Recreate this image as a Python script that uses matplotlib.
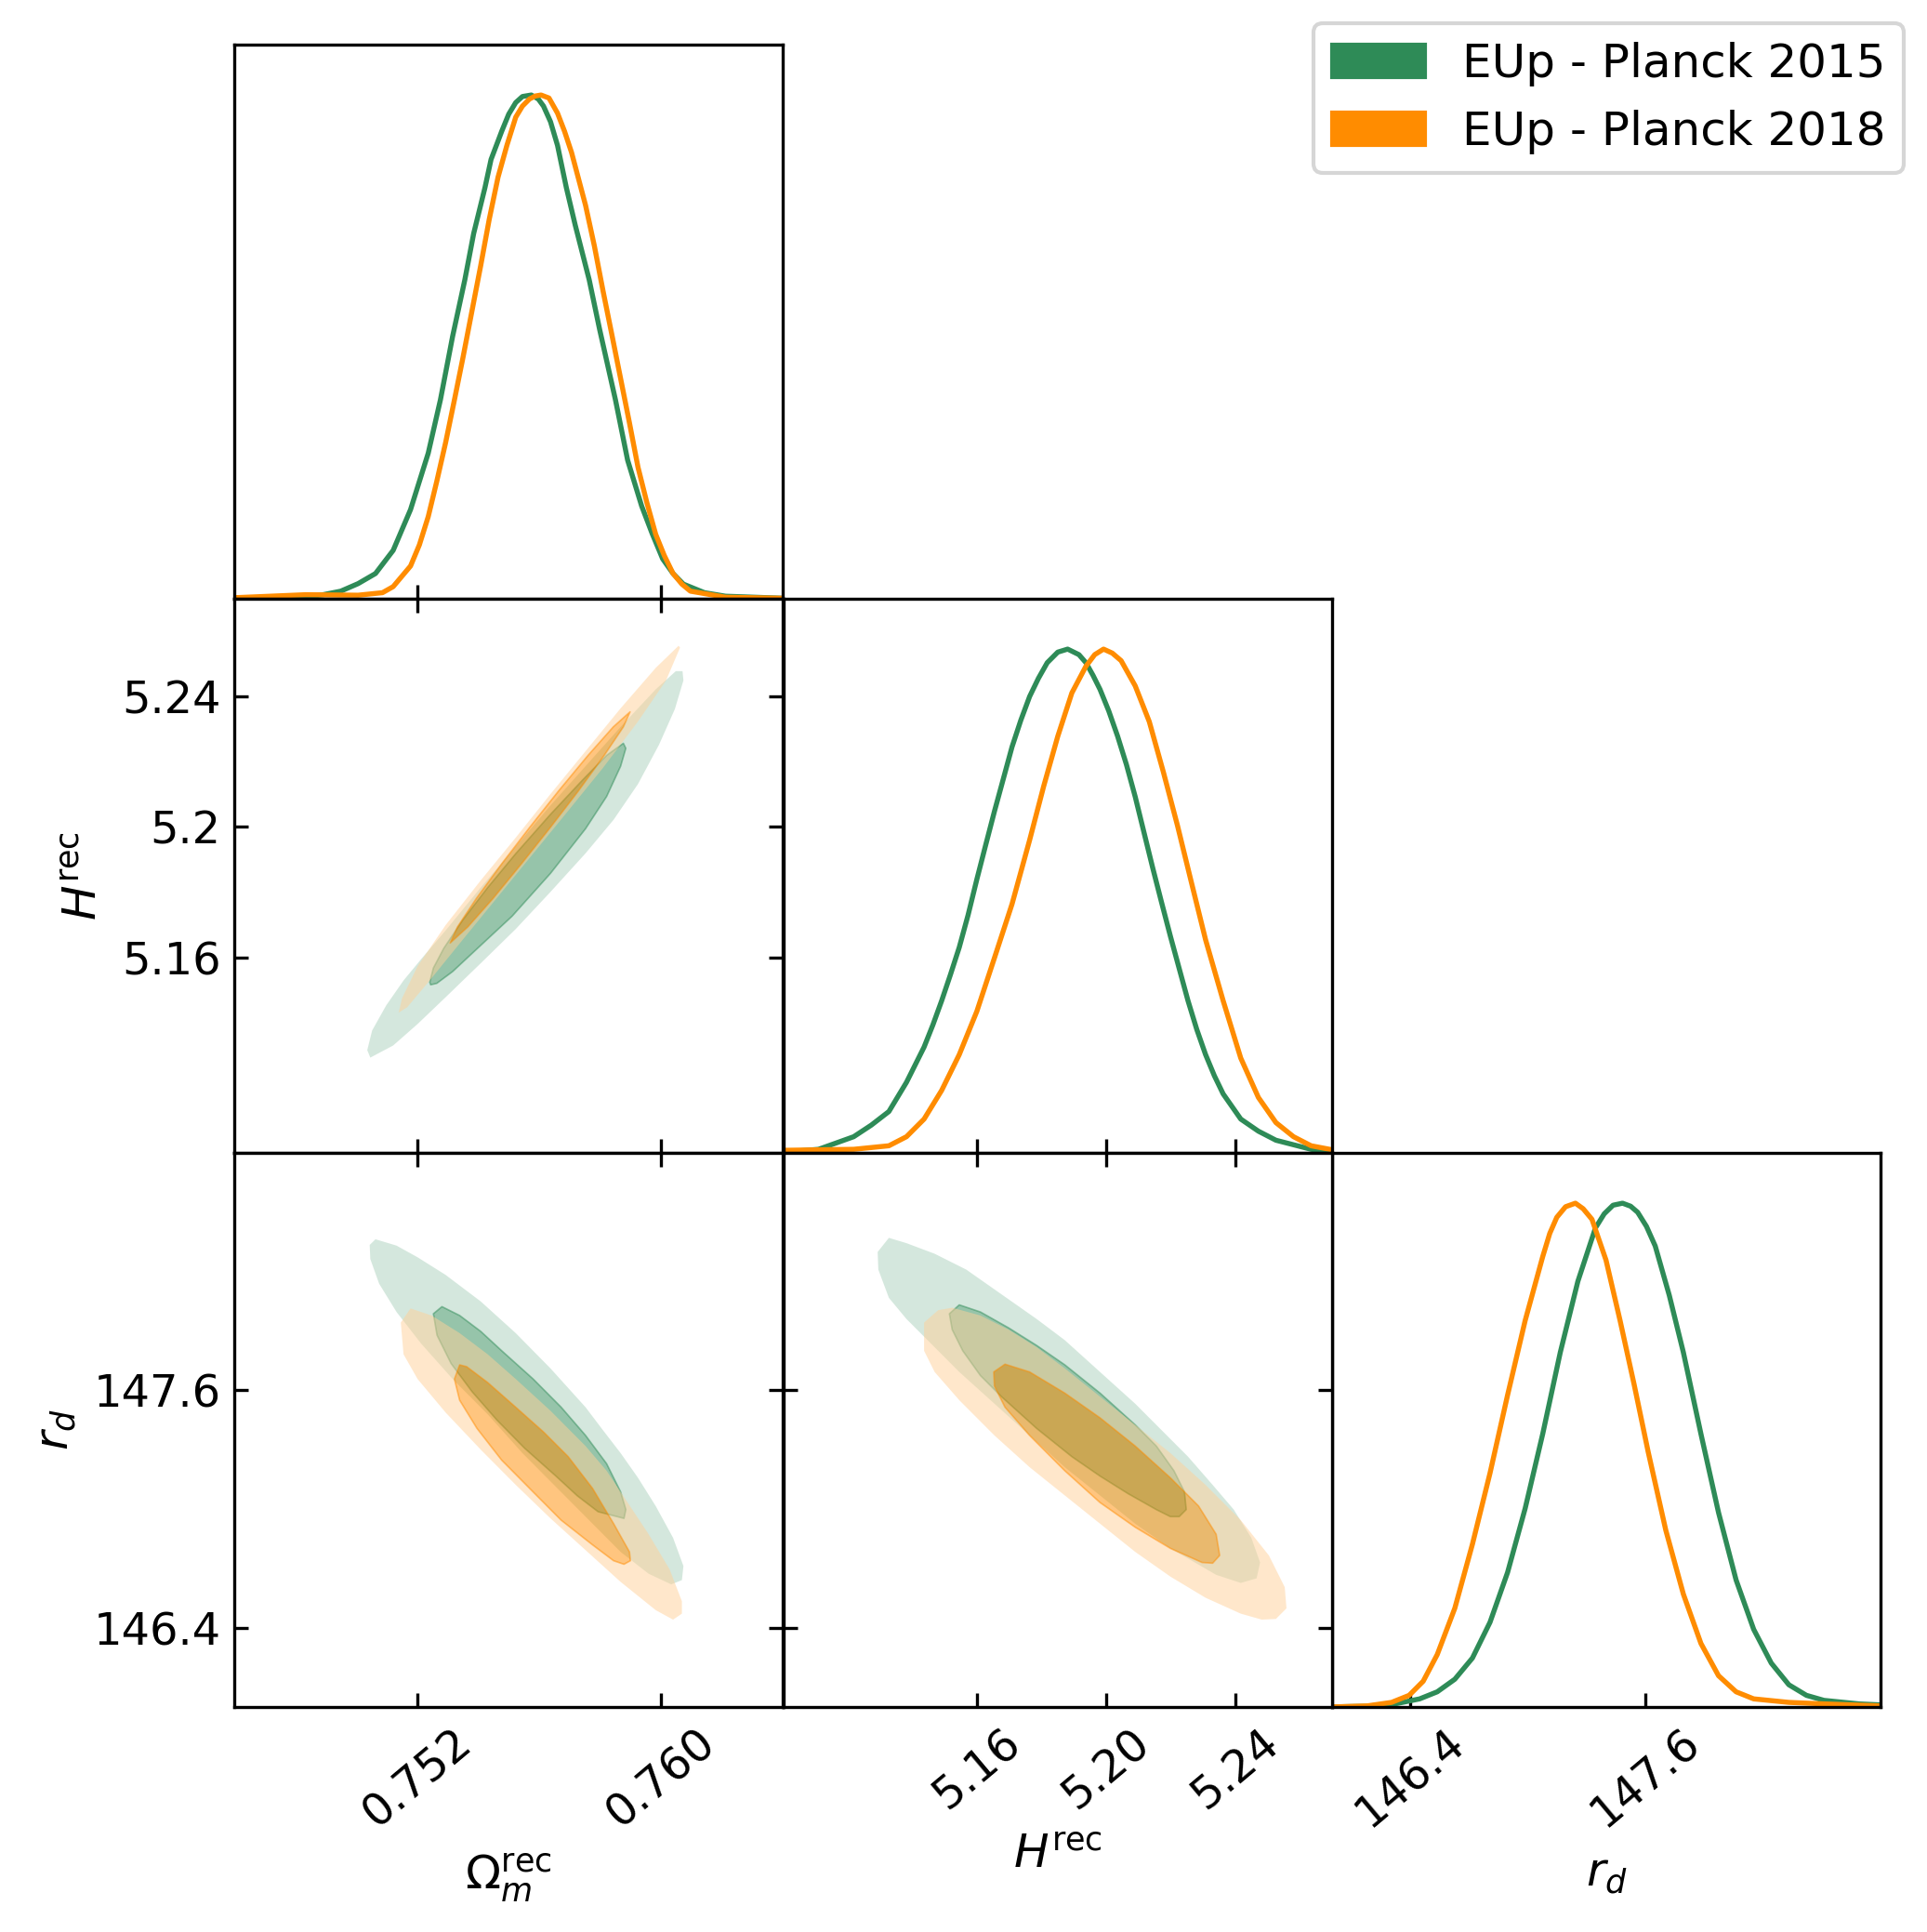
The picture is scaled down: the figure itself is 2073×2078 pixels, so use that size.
import numpy as np
import matplotlib.pyplot as plt
import matplotlib.colors as mcolors
from matplotlib.path import Path
from matplotlib.patches import PathPatch, Polygon, Patch

# ---- ranges, ticks, labels ----
om_lim = (0.746, 0.764)
h_lim = (5.100, 5.270)
rd_lim = (146.0, 148.8)

om_ticks = [0.752, 0.760]
om_ticklabels = ['0.752', '0.760']
h_ticks = [5.16, 5.20, 5.24]
h_xticklabels = ['5.16', '5.20', '5.24']
h_yticklabels = ['5.16', '5.2', '5.24']
rd_ticks = [146.4, 147.6]
rd_ticklabels = ['146.4', '147.6']

om_label = r'$\Omega_m^{\rm rec}$'
h_label = r'$H^{\rm rec}$'
rd_label = r'$r_d$'

series_names = ['EUp - Planck 2015', 'EUp - Planck 2018']
green = '#2E8B57'
orange = '#FF8C00'

# ---- 1D marginals (normalised to peak 1) ----
om_x_2015 = [0.7460, 0.74834, 0.74891, 0.74949, 0.75006, 0.75063, 0.75121, 0.75178,
             0.75236, 0.75276, 0.75316, 0.75356, 0.75385, 0.75422, 0.75442, 0.75477,
             0.75500, 0.75523, 0.75545, 0.75574, 0.75597, 0.75614, 0.75637, 0.75660,
             0.75689, 0.75718, 0.75764, 0.75798, 0.75850, 0.75890, 0.75936, 0.75970,
             0.76005, 0.76039, 0.76073, 0.76142, 0.76211, 0.7640]
om_p_2015 = [0.0015, 0.004, 0.008, 0.015, 0.030, 0.050, 0.096, 0.177,
             0.289, 0.395, 0.521, 0.633, 0.725, 0.816, 0.872, 0.928,
             0.962, 0.985, 0.997, 1.0, 0.992, 0.978, 0.947, 0.900,
             0.816, 0.742, 0.633, 0.535, 0.395, 0.275, 0.184, 0.130,
             0.079, 0.050, 0.029, 0.012, 0.005, 0.001]
om_x_2018 = [0.7460, 0.74834, 0.75006, 0.75086, 0.75121, 0.75178, 0.75207, 0.75236,
             0.75264, 0.75293, 0.75322, 0.75350, 0.75379, 0.75408, 0.75436, 0.75465,
             0.75494, 0.75523, 0.75545, 0.75568, 0.75587, 0.75606, 0.75632, 0.75660,
             0.75683, 0.75706, 0.75752, 0.75781, 0.75809, 0.75838, 0.75867, 0.75896,
             0.75924, 0.75953, 0.75982, 0.76010, 0.76039, 0.76068, 0.76096, 0.76211, 0.7640]
om_p_2018 = [0.002, 0.008, 0.007, 0.012, 0.024, 0.065, 0.107, 0.163,
             0.233, 0.310, 0.395, 0.479, 0.570, 0.661, 0.753, 0.837,
             0.900, 0.956, 0.978, 0.992, 0.998, 1.0, 0.994, 0.964,
             0.928, 0.886, 0.781, 0.700, 0.612, 0.525, 0.437, 0.349,
             0.261, 0.191, 0.128, 0.086, 0.050, 0.029, 0.015, 0.003, 0.001]

h_x_2015 = [5.1000, 5.11085, 5.12174, 5.12719, 5.13264, 5.13809, 5.14354, 5.14627,
            5.14899, 5.15172, 5.15444, 5.15717, 5.15989, 5.16262, 5.16534, 5.16807,
            5.17079, 5.17352, 5.17624, 5.17896, 5.18169, 5.18496, 5.18801, 5.19150,
            5.19368, 5.19586, 5.19804, 5.20076, 5.20349, 5.20621, 5.20894, 5.21166,
            5.21439, 5.21711, 5.21984, 5.22256, 5.22529, 5.22801, 5.23074, 5.23346,
            5.23618, 5.24164, 5.24709, 5.25253, 5.26343, 5.2700]
h_p_2015 = [0.0014, 0.007, 0.032, 0.055, 0.082, 0.140, 0.210, 0.254,
            0.302, 0.354, 0.408, 0.472, 0.543, 0.611, 0.678, 0.742,
            0.806, 0.859, 0.906, 0.942, 0.973, 0.994, 1.0, 0.989,
            0.973, 0.948, 0.920, 0.877, 0.827, 0.771, 0.707, 0.636,
            0.565, 0.497, 0.430, 0.366, 0.302, 0.245, 0.195, 0.153,
            0.117, 0.067, 0.043, 0.025, 0.007, 0.001]
h_x_2018 = [5.1000, 5.11085, 5.12174, 5.13264, 5.13809, 5.14354, 5.14899, 5.15444,
            5.15989, 5.16534, 5.17079, 5.17624, 5.18060, 5.18496, 5.18932, 5.19368,
            5.19640, 5.19913, 5.20185, 5.20458, 5.20894, 5.21330, 5.21766, 5.22202,
            5.22638, 5.23074, 5.23618, 5.24164, 5.24709, 5.25253, 5.25798, 5.26343, 5.2700]
h_p_2018 = [0.005, 0.006, 0.007, 0.014, 0.032, 0.067, 0.124, 0.195,
            0.281, 0.387, 0.494, 0.621, 0.728, 0.827, 0.913, 0.966,
            0.989, 1.0, 0.992, 0.977, 0.927, 0.856, 0.756, 0.650,
            0.536, 0.423, 0.302, 0.188, 0.110, 0.060, 0.032, 0.014, 0.006]

rd_x_2015 = [146.0, 146.1776, 146.3211, 146.4466, 146.5363, 146.6260, 146.7157, 146.8054,
             146.8951, 146.9848, 147.0744, 147.1641, 147.2538, 147.3435, 147.3883, 147.4332,
             147.4816, 147.5229, 147.5587, 147.6036, 147.6484, 147.7202, 147.7919, 147.8816,
             147.9713, 148.0610, 148.1507, 148.2404, 148.3301, 148.4198, 148.5094, 148.6888, 148.8]
rd_p_2015 = [0.0, 0.0014, 0.006, 0.016, 0.030, 0.055, 0.097, 0.168,
             0.267, 0.394, 0.542, 0.704, 0.845, 0.951, 0.979, 0.996,
             1.0, 0.994, 0.982, 0.954, 0.915, 0.817, 0.704, 0.542,
             0.386, 0.252, 0.154, 0.087, 0.044, 0.023, 0.013, 0.006, 0.004]
rd_x_2018 = [146.0, 146.1776, 146.3031, 146.3928, 146.4646, 146.5363, 146.6260, 146.7157,
             146.8054, 146.8951, 146.9848, 147.0744, 147.1103, 147.1462, 147.1910, 147.2413,
             147.2807, 147.3256, 147.3973, 147.4691, 147.5408, 147.6126, 147.7022, 147.7919,
             147.8816, 147.9713, 148.0610, 148.1507, 148.3301, 148.5094, 148.8]
rd_p_2018 = [0.0, 0.002, 0.009, 0.023, 0.051, 0.104, 0.196, 0.323,
             0.464, 0.619, 0.767, 0.894, 0.940, 0.972, 0.993, 1.0,
             0.989, 0.968, 0.887, 0.767, 0.640, 0.506, 0.351, 0.224,
             0.126, 0.062, 0.030, 0.016, 0.009, 0.006, 0.002]

# ---- 2D contours (68% inner, 95% outer), vertices ----
omh_2015_95 = [(0.75046, 5.12921), (0.75121, 5.13293), (0.75201, 5.13951), (0.75293, 5.14773),
               (0.75408, 5.15814), (0.75523, 5.16866), (0.75637, 5.18005), (0.75752, 5.19189),
               (0.75844, 5.20219), (0.75924, 5.21315), (0.75993, 5.22521), (0.76045, 5.23616),
               (0.76073, 5.24493), (0.76070, 5.24778), (0.76048, 5.24778), (0.75982, 5.24219),
               (0.75867, 5.23068), (0.75752, 5.21863), (0.75637, 5.20658), (0.75523, 5.19397),
               (0.75408, 5.18137), (0.75293, 5.16822), (0.75213, 5.15945), (0.75155, 5.15288),
               (0.75098, 5.14521), (0.75052, 5.13753), (0.75036, 5.13151)]
omh_2015_68 = [(0.75244, 5.15156), (0.75264, 5.15200), (0.75316, 5.15562), (0.75385, 5.16164),
               (0.75511, 5.17260), (0.75637, 5.18575), (0.75752, 5.19945), (0.75821, 5.20932),
               (0.75867, 5.21863), (0.75884, 5.22411), (0.75876, 5.22564), (0.75821, 5.22192),
               (0.75741, 5.21425), (0.75637, 5.20384), (0.75523, 5.19178), (0.75431, 5.18137),
               (0.75350, 5.17151), (0.75287, 5.16274), (0.75253, 5.15671), (0.75241, 5.15233)]
omh_2018_95 = [(0.75139, 5.14301), (0.75167, 5.14466), (0.75236, 5.15233), (0.75350, 5.16548),
               (0.75465, 5.17863), (0.75580, 5.19178), (0.75695, 5.20493), (0.75809, 5.21808),
               (0.75924, 5.23233), (0.76016, 5.24493), (0.76062, 5.25501), (0.76057, 5.25556),
               (0.75982, 5.24877), (0.75867, 5.23638), (0.75752, 5.22323), (0.75637, 5.21008),
               (0.75523, 5.19671), (0.75408, 5.18356), (0.75293, 5.16986), (0.75201, 5.15726),
               (0.75150, 5.14740)]
omh_2018_68 = [(0.75308, 5.16438), (0.75366, 5.16932), (0.75449, 5.17808), (0.75545, 5.18904),
               (0.75638, 5.20000), (0.75728, 5.21096), (0.75813, 5.22192), (0.75876, 5.23068),
               (0.75898, 5.23529), (0.75843, 5.23068), (0.75760, 5.22192), (0.75663, 5.21096),
               (0.75570, 5.20000), (0.75480, 5.18904), (0.75394, 5.17808), (0.75332, 5.16932)]

omrd_2015_95 = [(0.75044, 148.3346), (0.75063, 148.3632), (0.75132, 148.3311), (0.75201, 148.2722),
                (0.75293, 148.1831), (0.75408, 148.0493), (0.75523, 147.8889), (0.75637, 147.7106),
                (0.75752, 147.5144), (0.75809, 147.3985), (0.75867, 147.2826), (0.75924, 147.1578),
                (0.75982, 147.0152), (0.76039, 146.8547), (0.76073, 146.7120), (0.76068, 146.6407),
                (0.76033, 146.6193), (0.75959, 146.6728), (0.75867, 146.7834), (0.75775, 146.9260),
                (0.75660, 147.1043), (0.75545, 147.2826), (0.75431, 147.4788), (0.75316, 147.6571),
                (0.75213, 147.8354), (0.75132, 147.9958), (0.75075, 148.1385), (0.75046, 148.2633)]
omrd_2015_68 = [(0.75253, 147.9869), (0.75281, 148.0226), (0.75339, 147.9780), (0.75408, 147.8978),
                (0.75477, 147.7997), (0.75580, 147.6571), (0.75672, 147.5144), (0.75752, 147.3718),
                (0.75821, 147.2291), (0.75867, 147.0865), (0.75884, 146.9973), (0.75878, 146.9528),
                (0.75793, 146.9866), (0.75725, 147.0669), (0.75656, 147.1649), (0.75552, 147.3076),
                (0.75461, 147.4502), (0.75380, 147.5929), (0.75311, 147.7355), (0.75265, 147.8782)]
omrd_2018_95 = [(0.75146, 147.9423), (0.75178, 148.0137), (0.75247, 147.9780), (0.75339, 147.8889),
                (0.75431, 147.7819), (0.75523, 147.6571), (0.75637, 147.4966), (0.75752, 147.3183),
                (0.75821, 147.1935), (0.75890, 147.0330), (0.75959, 146.8725), (0.76028, 146.6942),
                (0.76068, 146.5337), (0.76068, 146.4713), (0.76039, 146.4410), (0.75982, 146.4892),
                (0.75867, 146.6318), (0.75752, 146.7923), (0.75637, 146.9528), (0.75523, 147.1221),
                (0.75408, 147.3004), (0.75293, 147.4877), (0.75201, 147.6571), (0.75155, 147.7819)]
omrd_2018_68 = [(0.75322, 147.6571), (0.75339, 147.7284), (0.75362, 147.7195), (0.75431, 147.6392),
                (0.75523, 147.5144), (0.75614, 147.3896), (0.75695, 147.2648), (0.75775, 147.1043),
                (0.75844, 146.9260), (0.75896, 146.7834), (0.75899, 146.7388), (0.75878, 146.7210),
                (0.75844, 146.7388), (0.75775, 146.8190), (0.75672, 146.9438), (0.75580, 147.0865),
                (0.75477, 147.2470), (0.75396, 147.4074), (0.75339, 147.5501)]

hrd_2015_95 = [(5.12916, 148.2990), (5.13264, 148.3703), (5.13809, 148.3435), (5.14681, 148.2900),
               (5.15662, 148.2098), (5.16752, 148.0850), (5.17842, 147.9602), (5.18714, 147.8532),
               (5.19804, 147.6927), (5.20894, 147.5322), (5.21766, 147.3896), (5.22529, 147.2648),
               (5.23292, 147.1221), (5.23946, 146.9973), (5.24491, 146.8547), (5.24763, 146.7299),
               (5.24654, 146.6496), (5.24164, 146.6265), (5.23401, 146.6675), (5.21984, 146.8012),
               (5.20894, 146.9260), (5.19804, 147.0686), (5.18714, 147.2113), (5.17624, 147.3718),
               (5.16534, 147.5322), (5.15444, 147.6927), (5.14572, 147.8354), (5.13809, 147.9602),
               (5.13264, 148.0672), (5.12937, 148.2098)]
hrd_2015_68 = [(5.15139, 147.9869), (5.15444, 148.0315), (5.16098, 147.9958), (5.16970, 147.9156),
               (5.17842, 147.8264), (5.18714, 147.7284), (5.19804, 147.5857), (5.20894, 147.4253),
               (5.21548, 147.3183), (5.22093, 147.1935), (5.22420, 147.0865), (5.22474, 146.9973),
               (5.22256, 146.9617), (5.21984, 146.9617), (5.21548, 146.9973), (5.20676, 147.0776),
               (5.19804, 147.1667), (5.18932, 147.2648), (5.17842, 147.4074), (5.16752, 147.5679),
               (5.16098, 147.6749), (5.15553, 147.7997), (5.15226, 147.9067)]
hrd_2018_95 = [(5.14354, 147.9423), (5.14790, 148.0048), (5.15226, 148.0172), (5.16098, 147.9780),
               (5.16970, 147.9067), (5.17842, 147.8175), (5.18714, 147.7106), (5.19804, 147.5679),
               (5.20894, 147.4253), (5.21984, 147.2826), (5.23074, 147.1221), (5.24164, 146.9438),
               (5.25035, 146.7655), (5.25526, 146.6051), (5.25580, 146.4981), (5.25253, 146.4446),
               (5.24818, 146.4410), (5.24164, 146.4713), (5.23074, 146.5516), (5.21984, 146.6585),
               (5.20894, 146.7834), (5.19804, 146.9260), (5.18714, 147.0686), (5.17624, 147.2113),
               (5.16534, 147.3718), (5.15444, 147.5501), (5.14681, 147.6927), (5.14354, 147.7997)]
hrd_2018_68 = [(5.16512, 147.6927), (5.16861, 147.7319), (5.17624, 147.6927), (5.18714, 147.5857),
               (5.19804, 147.4609), (5.20894, 147.3183), (5.21984, 147.1578), (5.22856, 147.0152),
               (5.23401, 146.8725), (5.23510, 146.7655), (5.23292, 146.7263), (5.22965, 146.7299),
               (5.21984, 146.8012), (5.20894, 146.9082), (5.19804, 147.0330), (5.18714, 147.1935),
               (5.17624, 147.3718), (5.16861, 147.5144), (5.16534, 147.6214)]


def area(p):
    return 0.5 * np.sum(p[:, 0] * np.roll(p[:, 1], -1) - np.roll(p[:, 0], -1) * p[:, 1])


def draw_contours(ax, outer, inner, color):
    base = np.array(mcolors.to_rgb(color))
    pale = base * 0.4 + 0.6
    o = np.asarray(outer, dtype=float)
    i = np.asarray(inner, dtype=float)
    if np.sign(area(o)) == np.sign(area(i)):
        i = i[::-1]
    verts = np.concatenate([o, o[:1], i, i[:1]])
    codes = ([Path.MOVETO] + [Path.LINETO] * (len(o) - 1) + [Path.CLOSEPOLY] +
             [Path.MOVETO] + [Path.LINETO] * (len(i) - 1) + [Path.CLOSEPOLY])
    ax.add_patch(PathPatch(Path(verts, codes), facecolor=pale, edgecolor='none', alpha=0.5))
    ax.add_patch(Polygon(i, closed=True, facecolor=base, edgecolor=base, lw=0.4, alpha=0.5,
                         joinstyle='round'))


fig = plt.figure(figsize=(2073 / 300, 2078 / 300), dpi=300)
L = [0.1216, 0.4066, 0.6913]
B = [0.6901, 0.4033, 0.1165]
W, H = 0.2848, 0.2868

tick_fs = 11.5
lab_fs = 12

ax_om = fig.add_axes([L[0], B[0], W, H])
ax_h = fig.add_axes([L[1], B[1], W, H])
ax_rd = fig.add_axes([L[2], B[2], W, H])
ax_omh = fig.add_axes([L[0], B[1], W, H])
ax_omrd = fig.add_axes([L[0], B[2], W, H])
ax_hrd = fig.add_axes([L[1], B[2], W, H])

# 1D panels
for ax, xs, ps, lim, ticks in [
        (ax_om, (om_x_2015, om_x_2018), (om_p_2015, om_p_2018), om_lim, om_ticks),
        (ax_h, (h_x_2015, h_x_2018), (h_p_2015, h_p_2018), h_lim, h_ticks),
        (ax_rd, (rd_x_2015, rd_x_2018), (rd_p_2015, rd_p_2018), rd_lim, rd_ticks)]:
    ax.plot(xs[0], ps[0], color=green, lw=1.3, solid_joinstyle='round')
    ax.plot(xs[1], ps[1], color=orange, lw=1.3, solid_joinstyle='round')
    ax.set_xlim(lim)
    ax.set_ylim(0, 1.1)
    ax.set_xticks(ticks)
    ax.set_yticks([])
    ax.tick_params(direction='in', labelbottom=False, labelsize=tick_fs)

ax_rd.tick_params(labelbottom=True)
ax_rd.set_xticklabels(rd_ticklabels, rotation=40, ha='center')
ax_rd.set_xlabel(rd_label, fontsize=lab_fs)

# 2D panels
for ax, pairs, xlim, ylim in [
        (ax_omh, [(omh_2015_95, omh_2015_68), (omh_2018_95, omh_2018_68)], om_lim, h_lim),
        (ax_omrd, [(omrd_2015_95, omrd_2015_68), (omrd_2018_95, omrd_2018_68)], om_lim, rd_lim),
        (ax_hrd, [(hrd_2015_95, hrd_2015_68), (hrd_2018_95, hrd_2018_68)], h_lim, rd_lim)]:
    draw_contours(ax, pairs[0][0], pairs[0][1], green)
    draw_contours(ax, pairs[1][0], pairs[1][1], orange)
    ax.set_xlim(xlim)
    ax.set_ylim(ylim)
    ax.tick_params(direction='in', top=True, right=True, labelsize=tick_fs,
                   labelbottom=False, labelleft=False)

ax_omh.set_xticks(om_ticks)
ax_omh.set_yticks(h_ticks)
ax_omh.set_yticklabels(h_yticklabels)
ax_omh.tick_params(labelleft=True)
ax_omh.set_ylabel(h_label, fontsize=lab_fs)

ax_omrd.set_xticks(om_ticks)
ax_omrd.set_xticklabels(om_ticklabels, rotation=40, ha='center')
ax_omrd.set_yticks(rd_ticks)
ax_omrd.set_yticklabels(rd_ticklabels)
ax_omrd.tick_params(labelleft=True, labelbottom=True)
ax_omrd.set_xlabel(om_label, fontsize=lab_fs)
ax_omrd.set_ylabel(rd_label, fontsize=lab_fs)

ax_hrd.set_xticks(h_ticks)
ax_hrd.set_xticklabels(h_xticklabels, rotation=40, ha='center')
ax_hrd.set_yticks(rd_ticks)
ax_hrd.tick_params(labelbottom=True)
ax_hrd.set_xlabel(h_label, fontsize=lab_fs)

handles = [Patch(color=green), Patch(color=orange)]
fig.legend(handles, series_names, loc='upper right', bbox_to_anchor=(0.988, 0.988),
           borderaxespad=0, fontsize=12)

fig.savefig('out.png', dpi=300)
